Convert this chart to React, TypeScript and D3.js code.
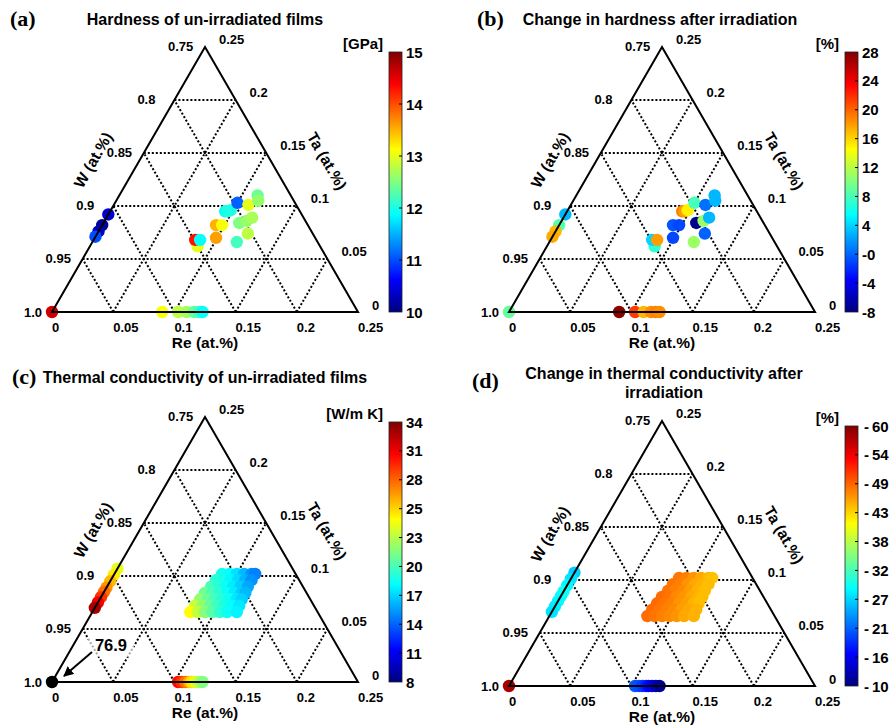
import React from 'react';
import * as d3 from 'd3';

const FONT = "'Liberation Sans', Arial, Helvetica, sans-serif";
const SERIF = "'Liberation Serif', 'Times New Roman', serif";

// ternary axis ticks
const TICK_FRACTIONS = [0, 0.05, 0.1, 0.15, 0.2, 0.25];
const RE_TICK_LABELS = ['0', '0.05', '0.1', '0.15', '0.2', '0.25'];
const TA_TICK_LABELS = ['0', '0.05', '0.1', '0.15', '0.2', '0.25'];
const W_TICK_LABELS = ['1.0', '0.95', '0.9', '0.85', '0.8', '0.75'];
const GRID_LEVELS = [0.05, 0.1, 0.15, 0.2];

// hardness samples (Re, Ta fractions)
const hardRe = [0, 0.090, 0.103, 0.110, 0.116, 0.120, 0.123, 0, 0, 0, 0, 0.088, 0.083, 0.087, 0.093, 0.098, 0.099, 0.094, 0.096, 0.098, 0.100, 0.110, 0.113, 0.116, 0.111, 0.116, 0.119, 0.123, 0.118];
const hardTa = [0, 0, 0, 0, 0, 0, 0, 0.092, 0.082, 0.076, 0.071, 0.062, 0.068, 0.068, 0.082, 0.082, 0.070, 0.095, 0.095, 0.096, 0.103, 0.101, 0.110, 0.105, 0.084, 0.086, 0.089, 0.074, 0.066];
const hardnessGPa = [14.6, 13.1, 12.8, 12.7, 12.4, 12.2, 11.9, 10.4, 10.1, 10.3, 11.0, 13.0, 14.3, 11.9, 13.5, 13.1, 13.6, 11.9, 12.0, 12.0, 11.1, 13.0, 12.4, 12.6, 12.5, 12.6, 12.7, 12.8, 12.2];
const hardnessChangePct = [9, 27.5, 21.5, 17, 18.5, 19, 18.5, 3, 8.5, 17, 17.5, 7, 4, 18, -0.5, -1, -1, 19, 18, 15, 8, 0.5, 3, 3, -7.5, 11, 3, 0, 11];

// thermal conductivity samples (Re, Ta fractions)
const tcRe = [
  0,
  0, 0, 0, 0, 0, 0, 0, 0,
  0.103, 0.106, 0.109, 0.112, 0.114, 0.117, 0.120, 0.123,
  0.088, 0.094, 0.100, 0.106, 0.112, 0.115,
  0.086, 0.092, 0.098, 0.104, 0.110, 0.115,
  0.085, 0.091, 0.097, 0.103, 0.109, 0.115,
  0.083, 0.089, 0.095, 0.101, 0.107, 0.113, 0.116,
  0.082, 0.088, 0.094, 0.100, 0.106, 0.112, 0.116,
  0.081, 0.087, 0.093, 0.099, 0.105, 0.111, 0.117,
  0.080, 0.086, 0.092, 0.098, 0.104, 0.110, 0.118,
];
const tcTa = [
  0,
  0.107, 0.101, 0.095, 0.089, 0.085, 0.080, 0.075, 0.070,
  0, 0, 0, 0, 0, 0, 0, 0,
  0.102, 0.102, 0.102, 0.102, 0.102, 0.102,
  0.096, 0.096, 0.096, 0.096, 0.096, 0.096,
  0.090, 0.090, 0.090, 0.090, 0.090, 0.090,
  0.084, 0.084, 0.084, 0.084, 0.084, 0.084, 0.084,
  0.078, 0.078, 0.078, 0.078, 0.078, 0.078, 0.078,
  0.072, 0.072, 0.072, 0.072, 0.072, 0.072, 0.072,
  0.066, 0.066, 0.066, 0.066, 0.066, 0.066, 0.066,
];
const thermalCond = [
  76.9,
  23.5, 24.7, 26, 27, 28, 29.5, 31, 33,
  30.5, 29.5, 28, 26.5, 25, 23.5, 22.5, 21,
  18.2, 17.8, 17.0, 16.0, 15.0, 14.5,
  18.8, 18.3, 17.6, 16.8, 15.8, 15.0,
  19.5, 18.8, 18.0, 17.3, 16.5, 15.5,
  20.5, 19.6, 18.8, 18.0, 17.3, 16.5, 16.0,
  21.5, 20.5, 19.5, 18.7, 18.0, 17.2, 16.6,
  22.8, 21.5, 20.3, 19.3, 18.5, 17.8, 17.2,
  24.3, 22.8, 21.2, 20.0, 19.0, 18.0, 17.5,
];
const tcChangePct = [
  -58,
  -26.5, -27.5, -28.5, -29.5, -29, -28.5, -28, -27.5,
  -20.5, -20, -19, -18, -16.5, -15, -13, -11,
  -48, -47.5, -46.5, -45.5, -44.8, -44.3,
  -48, -47.5, -46.5, -45.5, -45, -44.5,
  -48, -47.5, -47, -46, -45, -44.5,
  -48.5, -48, -47, -46.5, -45.5, -45, -44.5,
  -48.5, -48, -47.5, -46.5, -46, -45, -44.5,
  -48.5, -48, -47.5, -47, -46, -45.5, -45,
  -48.5, -48, -47.5, -47, -46.5, -45.5, -45,
];

// colorbars
const cbLabelsA = ['15', '14', '13', '12', '11', '10'];
const cbLabelsB = ['28', '24', '20', '16', '12', '8', '4', '-0', '-4', '-8'];
const cbLabelsC = ['34', '31', '28', '25', '23', '20', '17', '14', '11', '8'];
const cbLabelsD = ['-60', '-54', '-49', '-43', '-38', '-32', '-27', '-21', '-16', '-10'];

const SIDE = 306;
const R = 6.2;

function jet(t: number) {
  const c = (v: number) => Math.max(0, Math.min(1, v));
  const tt = c(t);
  const r = c(1.5 - Math.abs(4 * tt - 3));
  const g = c(1.5 - Math.abs(4 * tt - 2));
  const b = c(1.5 - Math.abs(4 * tt - 1));
  return d3.rgb(r * 255, g * 255, b * 255).formatHex();
}

type PanelProps = {
  id: string;
  letter: string;
  titleLines: string[];
  titleX: number;
  titleY: number;
  letterX: number;
  letterY: number;
  x0: number;
  y0: number;
  re: number[];
  ta: number[];
  vals: number[];
  bottomVal: number;
  topVal: number;
  cbX: number;
  cbTop: number;
  cbLabels: string[];
  unit: string;
  dashGap?: boolean;
  annotate?: boolean;
};

function Panel(p: PanelProps) {
  const s = d3.scaleLinear().domain([0, 0.25]).range([0, SIDE]);
  const H = Math.sqrt(3) / 2;
  const X = (re: number, ta: number) => p.x0 + s(re + ta / 2);
  const Y = (ta: number) => p.y0 - s(ta) * H;
  const tScale = d3.scaleLinear().domain([p.bottomVal, p.topVal]).range([0, 1]);
  const colorOf = (v: number) => {
    const t = tScale(v);
    if (t > 1.05 || t < -0.05) return '#000';
    return jet(t);
  };
  const cbBottom = p.y0;
  const cbH = cbBottom - p.cbTop;
  const cbW = 13;
  const labelY = d3.scaleLinear().domain([0, p.cbLabels.length - 1]).range([p.cbTop, cbBottom]);
  const stops = d3.range(0, 65).map((i) => i / 64);

  const gridLines: [number, number, number, number][] = [];
  GRID_LEVELS.forEach((g) => {
    gridLines.push([X(0, g), Y(g), X(0.25 - g, g), Y(g)]);
    gridLines.push([X(g, 0), Y(0), X(g, 0.25 - g), Y(0.25 - g)]);
    gridLines.push([X(g, 0), Y(0), X(0, g), Y(g)]);
  });

  const tri = `M${X(0, 0)},${Y(0)}L${X(0.25, 0)},${Y(0)}L${X(0, 0.25)},${Y(0.25)}Z`;

  return (
    <g>
      <defs>
        <linearGradient id={`cb-${p.id}`} x1="0" y1="1" x2="0" y2="0">
          {stops.map((t) => (
            <stop key={t} offset={t} stopColor={jet(t)} />
          ))}
        </linearGradient>
        <marker id={`arr-${p.id}`} viewBox="0 0 10 10" refX="9" refY="5" markerWidth="5" markerHeight="5" orient="auto">
          <path d="M0,0L10,5L0,10Z" fill="#000" />
        </marker>
      </defs>
      <text x={p.letterX} y={p.letterY} fontFamily={SERIF} fontWeight="bold" fontSize={22}>{`(${p.letter})`}</text>
      {p.titleLines.map((t, i) => (
        <text key={i} x={p.titleX} y={p.titleY + i * 19} textAnchor="middle" fontWeight="bold" fontSize={16}>{t}</text>
      ))}
      {gridLines.map((l, i) => (
        <line key={i} x1={l[0]} y1={l[1]} x2={l[2]} y2={l[3]} stroke="#000" strokeWidth={2} strokeDasharray="2 2" />
      ))}
      {p.re.map((r, i) => (
        <circle key={i} cx={X(r, p.ta[i])} cy={Y(p.ta[i])} r={R} fill={colorOf(p.vals[i])} />
      ))}
      <path d={tri} fill="none" stroke="#000" strokeWidth={2} strokeLinejoin="miter" />
      {TICK_FRACTIONS.map((f, i) => (
        <text key={'re' + i} x={X(f, 0)} y={p.y0 + 20} fontSize={13} fontWeight="bold">{RE_TICK_LABELS[i]}</text>
      ))}
      {TICK_FRACTIONS.map((f, i) => (
        <text key={'ta' + i} x={X(0.25 - f, f) + 14} y={Y(f) - 2.5} fontSize={13} fontWeight="bold">{TA_TICK_LABELS[i]}</text>
      ))}
      {TICK_FRACTIONS.map((f, i) => (
        <text key={'w' + i} x={X(0, f) - (i === 0 ? 28 : 37)} y={Y(f) + 4.5} fontSize={13} fontWeight="bold">{W_TICK_LABELS[i]}</text>
      ))}
      <text x={p.x0 + 153} y={p.y0 + 35.5} textAnchor="middle" fontSize={15.5} fontWeight="bold">Re (at.%)</text>
      <text transform={`translate(${p.x0 + 41},${p.y0 - 152}) rotate(-60)`} textAnchor="middle" dy="0.35em" fontSize={15.5} fontWeight="bold">W (at.%)</text>
      <text transform={`translate(${p.x0 + 275},${p.y0 - 151}) rotate(60)`} textAnchor="middle" dy="0.35em" fontSize={15.5} fontWeight="bold">Ta (at.%)</text>
      {p.annotate && (
        <g>
          <rect x={X(0, 0) + 36} y={Y(0) - 50} width={46} height={25} fill="#fff" opacity={0.65} />
          <text x={X(0, 0) + 59} y={Y(0) - 31} textAnchor="middle" fontSize={16.5} fontWeight="bold">76.9</text>
          <line x1={X(0, 0) + 40} y1={Y(0) - 30} x2={X(0, 0) + 12} y2={Y(0) - 6} stroke="#000" strokeWidth={2} markerEnd={`url(#arr-${p.id})`} />
        </g>
      )}
      <rect x={p.cbX} y={p.cbTop} width={cbW} height={cbH} fill={`url(#cb-${p.id})`} stroke="#222" strokeWidth={0.8} />
      {p.cbLabels.map((l, i) => (
        <g key={i}>
          {i > 0 && i < p.cbLabels.length - 1 && (
            <line x1={p.cbX + cbW - 3} x2={p.cbX + cbW} y1={labelY(i)} y2={labelY(i)} stroke="#000" strokeWidth={1} />
          )}
          <text x={p.cbX + cbW + (p.dashGap ? 6 : 4)} y={labelY(i) + 5.5} fontSize={15} fontWeight="bold">
            {p.dashGap ? l.replace('-', '-\u2009') : l}
          </text>
        </g>
      ))}
      <text x={p.cbX - 6} y={p.cbTop - 3} textAnchor="end" fontSize={15} fontWeight="bold">{p.unit}</text>
    </g>
  );
}

export default function App() {
  return (
    <svg width={894} height={728} style={{ position: 'absolute', left: 0, top: 0, background: '#fff' }} fontFamily={FONT}>
      <rect width={894} height={728} fill="#fff" />
      <Panel id="a" letter="a" titleLines={['Hardness of un-irradiated films']} titleX={205} titleY={25} letterX={10} letterY={26}
        x0={52} y0={312} re={hardRe} ta={hardTa} vals={hardnessGPa} bottomVal={10} topVal={15}
        cbX={389} cbTop={52} cbLabels={cbLabelsA} unit="[GPa]" />
      <Panel id="b" letter="b" titleLines={['Change in hardness after irradiation']} titleX={660} titleY={25} letterX={477} letterY={26}
        x0={509} y0={312} re={hardRe} ta={hardTa} vals={hardnessChangePct} bottomVal={-8} topVal={28}
        cbX={845} cbTop={52} cbLabels={cbLabelsB} unit="[%]" />
      <Panel id="c" letter="c" titleLines={['Thermal conductivity of un-irradiated films']} titleX={205} titleY={383} letterX={12} letterY={384}
        x0={52} y0={682} re={tcRe} ta={tcTa} vals={thermalCond} bottomVal={8} topVal={34}
        cbX={389} cbTop={422} cbLabels={cbLabelsC} unit="[W/m K]" annotate />
      <Panel id="d" letter="d" titleLines={['Change in thermal conductivity after', 'irradiation']} titleX={664} titleY={379} letterX={472} letterY={388}
        x0={509} y0={686} re={tcRe} ta={tcTa} vals={tcChangePct} bottomVal={-10} topVal={-60}
        cbX={845} cbTop={426} cbLabels={cbLabelsD} unit="[%]" dashGap />
    </svg>
  );
}
